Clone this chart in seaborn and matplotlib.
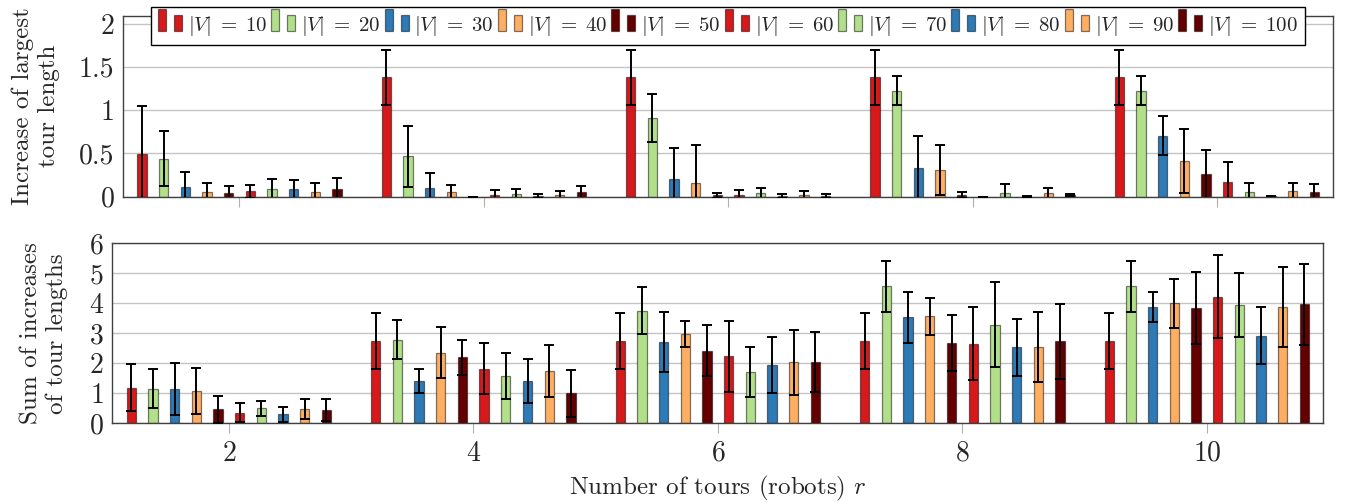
import numpy as np
import pandas as pd
import matplotlib
matplotlib.use("Agg")
import matplotlib.pyplot as plt
import seaborn as sns
from matplotlib.legend_handler import HandlerBase
from matplotlib.patches import Rectangle

# groups on the x axis and the hue levels
tours = [2, 4, 6, 8, 10]
sizes = [10, 20, 30, 40, 50, 60, 70, 80, 90, 100]
size_labels = [str(v) for v in sizes]
colors = ["#d7191c", "#b2df8a", "#2c7bb6", "#fdae61", "#640000"] * 2

# top panel: increase of largest tour length (rows = r, cols = |V|)
largest_mean = [
    [0.49, 0.44, 0.11, 0.054, 0.046, 0.062, 0.085, 0.085, 0.054, 0.092],
    [1.377, 0.466, 0.097, 0.05, 0.0, 0.02, 0.03, 0.008, 0.015, 0.05],
    [1.377, 0.911, 0.208, 0.161, 0.016, 0.016, 0.039, 0.008, 0.016, 0.008],
    [1.377, 1.223, 0.327, 0.308, 0.02, 0.0, 0.046, 0.005, 0.039, 0.02],
    [1.377, 1.223, 0.704, 0.415, 0.258, 0.17, 0.058, 0.004, 0.062, 0.058],
]
largest_std = [
    [0.56, 0.32, 0.17, 0.10, 0.08, 0.076, 0.12, 0.11, 0.10, 0.124],
    [0.32, 0.35, 0.176, 0.09, 0.0, 0.057, 0.06, 0.02, 0.05, 0.077],
    [0.32, 0.275, 0.357, 0.435, 0.03, 0.06, 0.065, 0.02, 0.055, 0.02],
    [0.32, 0.167, 0.373, 0.29, 0.035, 0.0, 0.104, 0.005, 0.062, 0.015],
    [0.32, 0.167, 0.225, 0.37, 0.28, 0.23, 0.10, 0.0, 0.096, 0.092],
]

# bottom panel: sum of increases of tour lengths
sum_mean = [
    [1.19, 1.155, 1.15, 1.07, 0.47, 0.355, 0.50, 0.30, 0.47, 0.45],
    [2.755, 2.79, 1.40, 2.355, 2.20, 1.82, 1.58, 1.42, 1.745, 1.0],
    [2.755, 3.755, 2.72, 2.965, 2.42, 2.23, 1.71, 1.945, 2.03, 2.04],
    [2.755, 4.565, 3.53, 3.565, 2.665, 2.655, 3.29, 2.53, 2.545, 2.73],
    [2.755, 4.565, 3.865, 4.0, 3.845, 4.22, 3.945, 2.92, 3.877, 3.965],
]
sum_std = [
    [0.79, 0.66, 0.86, 0.76, 0.45, 0.32, 0.245, 0.25, 0.335, 0.37],
    [0.935, 0.65, 0.40, 0.86, 0.59, 0.85, 0.76, 0.73, 0.87, 0.78],
    [0.935, 0.78, 1.0, 0.43, 0.85, 1.19, 0.83, 0.94, 1.08, 0.99],
    [0.935, 0.845, 0.85, 0.62, 0.93, 1.22, 1.41, 0.95, 1.16, 1.25],
    [0.935, 0.845, 0.50, 0.815, 1.20, 1.39, 1.07, 0.95, 1.34, 1.35],
]

sns.set_style("white")
plt.rcParams["font.family"] = "serif"
plt.rcParams["font.serif"] = ["cmr10", "DejaVu Serif"]
plt.rcParams["mathtext.fontset"] = "cm"
plt.rcParams["axes.formatter.use_mathtext"] = True

EDGE = (0, 0, 0, 0.5)
TICK_FS = 20
LABEL_FS = 18


class TwoBars(HandlerBase):
    # pgfplots style ybar legend image: a tall and a short bar
    def create_artists(self, legend, orig_handle, xdescent, ydescent,
                       width, height, fontsize, trans):
        fc = orig_handle.get_facecolor()
        w = width * 0.33
        y0 = -ydescent
        tall = Rectangle((-xdescent, y0), w, 1.5 * height, fc=fc, ec=EDGE,
                         lw=0.9, transform=trans)
        short = Rectangle((-xdescent + width - w, y0), w, 1.1 * height, fc=fc,
                          ec=EDGE, lw=0.9, transform=trans)
        return [tall, short]


def draw(ax, mean, std):
    df = pd.DataFrame({
        "r": np.repeat(tours, len(sizes)),
        "V": np.tile(size_labels, len(tours)),
        "val": np.ravel(mean),
    })
    sns.barplot(data=df, x="r", y="val", hue="V", hue_order=size_labels,
                palette=colors, native_scale=True, width=0.8865, gap=0.57,
                errorbar=None, saturation=1, edgecolor=EDGE, linewidth=0.9,
                legend=False, ax=ax)
    std = np.asarray(std)
    for i, cont in enumerate(list(ax.containers)):
        xs = [p.get_x() + p.get_width() / 2 for p in cont.patches]
        hs = [p.get_height() for p in cont.patches]
        ax.errorbar(xs, hs, yerr=std[:, i], fmt="none", ecolor="black",
                    elinewidth=1.4, capsize=3.8, capthick=1.4, zorder=4)
    ax.set_xlim(1.045, 10.95)
    ax.set_xticks(tours)
    ax.set_xlabel("")
    ax.set_axisbelow(True)
    ax.yaxis.grid(True, color="#c4c4c4", linewidth=1.0)
    ax.xaxis.grid(False)
    for s in ax.spines.values():
        s.set_color("#404040")
        s.set_linewidth(1.0)
    ax.tick_params(axis="x", direction="out", length=7.5, width=0.8,
                   color="#b0b0b0", labelsize=TICK_FS, pad=5, bottom=True)
    ax.tick_params(axis="y", length=0, labelsize=TICK_FS, pad=6)


fig = plt.figure(figsize=(13.5, 5.04), dpi=100)
ax1 = fig.add_axes([0.0909, 0.6097, 0.8965, 0.3591])
ax2 = fig.add_axes([0.0830, 0.1601, 0.8970, 0.3571])

draw(ax1, largest_mean, largest_std)
ax1.set_ylim(0, 2.09)
ax1.set_yticks([0, 0.5, 1, 1.5, 2])
ax1.set_yticklabels(["0", "0.5", "1", "1.5", "2"])
ax1.set_xticklabels([])
ax1.set_ylabel("Increase of largest\ntour length", fontsize=LABEL_FS)
ax1.yaxis.set_label_coords(-0.0518, 0.5)

draw(ax2, sum_mean, sum_std)
ax2.set_ylim(0, 6)
ax2.set_yticks(range(7))
ax2.set_ylabel("Sum of increases\nof tour lengths", fontsize=LABEL_FS)
ax2.yaxis.set_label_coords(-0.0363, 0.5)
ax2.set_xlabel(r"Number of tours (robots) $r$", fontsize=LABEL_FS, labelpad=5)

handles = [Rectangle((0, 0), 1, 1, facecolor=c, edgecolor=EDGE) for c in colors]
labels = [r"$|V|\;=\;%d$" % v for v in sizes]
leg = ax1.legend(handles, labels, handler_map={Rectangle: TwoBars()},
                 loc="upper center", bbox_to_anchor=(0.5, 1.0497), ncol=10,
                 fontsize=15, frameon=True, fancybox=False, framealpha=1,
                 edgecolor="black", handlelength=1.15, handletextpad=0.28,
                 columnspacing=0.2, borderpad=0.35, borderaxespad=0)
leg.get_frame().set_linewidth(1.0)

fig.savefig("out.png", dpi=100)
